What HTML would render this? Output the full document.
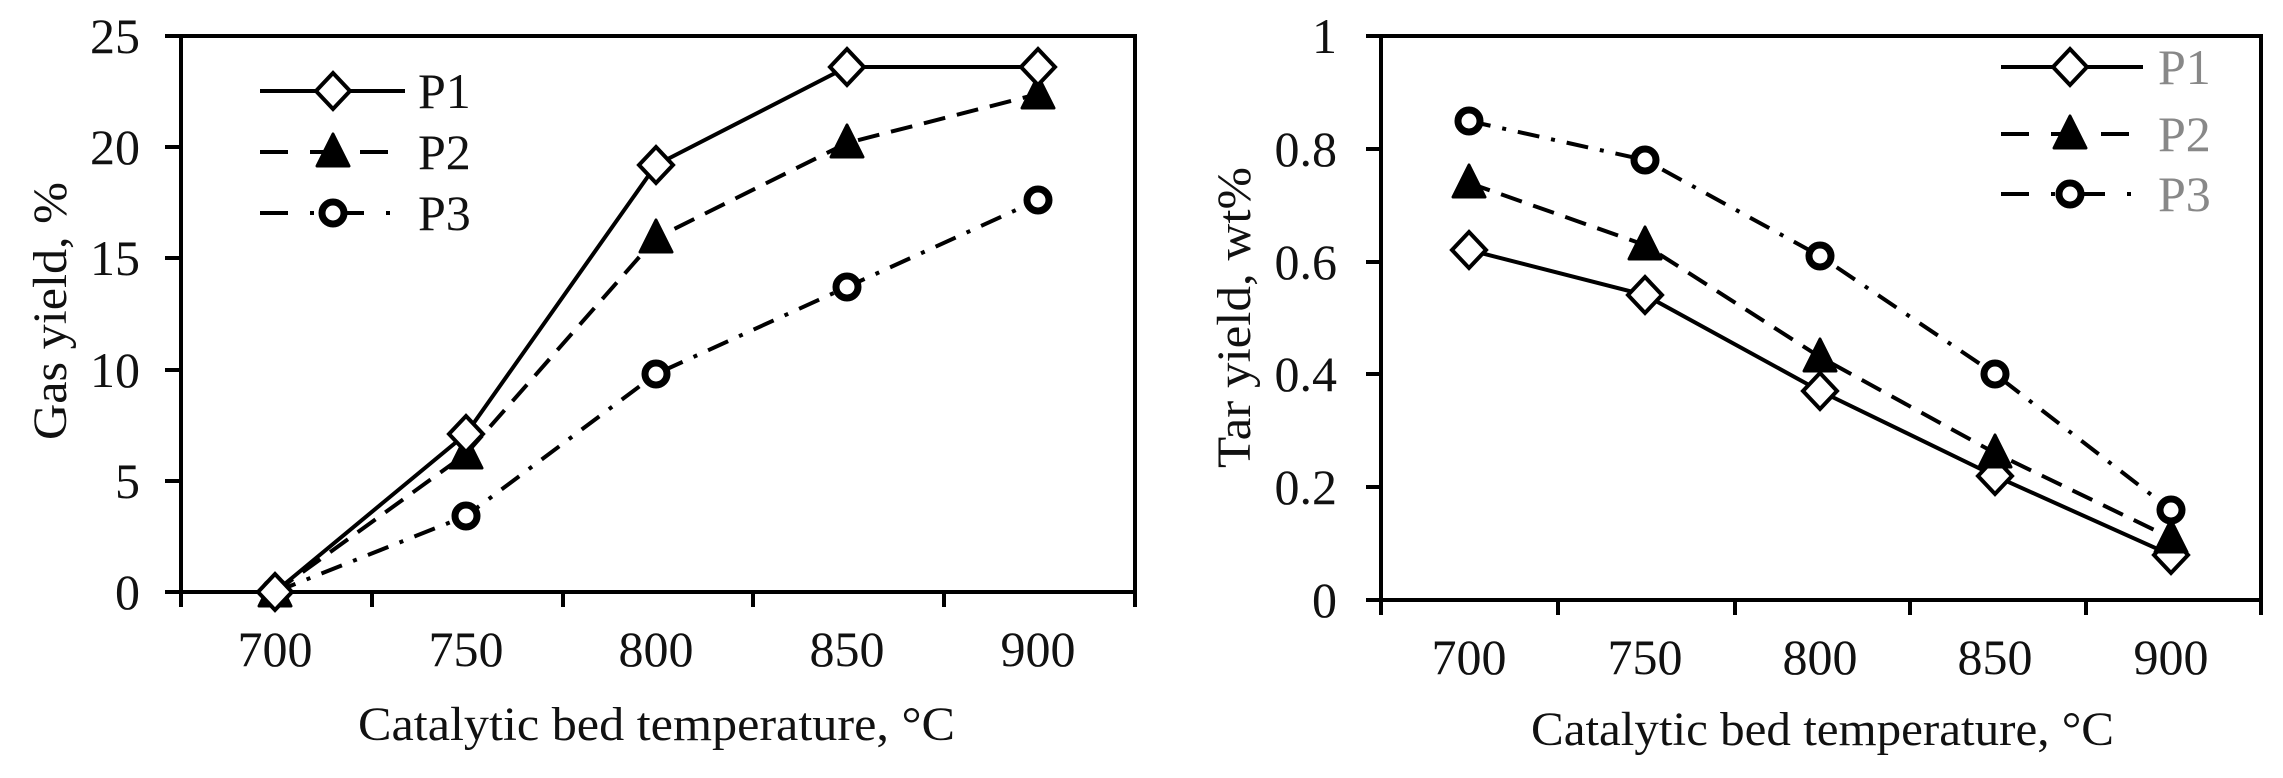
<!DOCTYPE html>
<html><head><meta charset="utf-8"><style>
html,body{margin:0;padding:0;background:#fff;}
svg{display:block;}
text{font-family:"Liberation Serif",serif;fill:#111;}
</style></head><body>
<svg width="2283" height="778" viewBox="0 0 2283 778" xmlns="http://www.w3.org/2000/svg">
<defs>
<g id="dia"><polygon points="0,-18 17,0 0,18 -17,0" fill="#fff" stroke="#000" stroke-width="4"/></g>
<g id="tri"><polygon points="0,-18 16,14 -16,14" fill="#000" stroke="#000" stroke-width="3" stroke-linejoin="round"/></g>
<g id="cir"><circle r="11" fill="#fff" stroke="#000" stroke-width="7"/></g>
</defs>

<!-- LEFT CHART -->
<g stroke="#000" stroke-width="4" fill="none">
<rect x="181" y="36" width="954" height="556"/>
<line x1="165" y1="592" x2="181" y2="592"/><line x1="165" y1="481" x2="181" y2="481"/><line x1="165" y1="370" x2="181" y2="370"/><line x1="165" y1="258" x2="181" y2="258"/><line x1="165" y1="147" x2="181" y2="147"/><line x1="165" y1="36" x2="181" y2="36"/>
<line x1="181" y1="592" x2="181" y2="607"/><line x1="372" y1="592" x2="372" y2="607"/><line x1="563" y1="592" x2="563" y2="607"/><line x1="753" y1="592" x2="753" y2="607"/><line x1="944" y1="592" x2="944" y2="607"/><line x1="1135" y1="592" x2="1135" y2="607"/>
</g>
<g font-size="50" text-anchor="end">
<text x="140" y="609">0</text><text x="140" y="498">5</text><text x="140" y="387">10</text><text x="140" y="275">15</text><text x="140" y="164">20</text><text x="140" y="53">25</text>
</g>
<g font-size="50" text-anchor="middle">
<text x="275" y="666">700</text><text x="466" y="666">750</text><text x="656" y="666">800</text><text x="847" y="666">850</text><text x="1038" y="666">900</text>
</g>
<text x="358" y="740" font-size="48" textLength="597" lengthAdjust="spacingAndGlyphs">Catalytic bed temperature, °C</text>
<text transform="translate(66,440) rotate(-90)" font-size="48" textLength="258" lengthAdjust="spacingAndGlyphs">Gas yield, %</text>

<g fill="none" stroke="#000" stroke-width="4">
<polyline points="275,592 466,434 656,165 847,67 1038,67"/>
<polyline points="275,592 466,454 656,238 847,143 1038,94" stroke-dasharray="22,12"/>
<polyline points="275,592 466,516 656,374 847,287 1038,200" stroke-dasharray="22,12,4,12"/>
</g>
<use href="#cir" x="275" y="592"/><use href="#cir" x="466" y="516"/><use href="#cir" x="656" y="374"/><use href="#cir" x="847" y="287"/><use href="#cir" x="1038" y="200"/>
<use href="#tri" x="275" y="592"/><use href="#tri" x="466" y="454"/><use href="#tri" x="656" y="238"/><use href="#tri" x="847" y="143"/><use href="#tri" x="1038" y="94"/>
<use href="#dia" x="275" y="592"/><use href="#dia" x="466" y="434"/><use href="#dia" x="656" y="165"/><use href="#dia" x="847" y="67"/><use href="#dia" x="1038" y="67"/>

<g fill="none" stroke="#000" stroke-width="4">
<line x1="260" y1="91" x2="405" y2="91"/>
<line x1="260" y1="152" x2="405" y2="152" stroke-dasharray="28,22"/>
<line x1="260" y1="213" x2="405" y2="213" stroke-dasharray="28,22,4,22"/>
</g>
<use href="#dia" x="333" y="91"/><use href="#tri" x="333" y="152"/><use href="#cir" x="333" y="213"/>
<g font-size="50"><text x="418" y="108">P1</text><text x="418" y="169">P2</text><text x="418" y="230">P3</text></g>

<!-- RIGHT CHART -->
<g stroke="#000" stroke-width="4" fill="none">
<rect x="1381" y="36" width="880" height="564"/>
<line x1="1366" y1="600" x2="1381" y2="600"/><line x1="1366" y1="487" x2="1381" y2="487"/><line x1="1366" y1="374" x2="1381" y2="374"/><line x1="1366" y1="262" x2="1381" y2="262"/><line x1="1366" y1="149" x2="1381" y2="149"/><line x1="1366" y1="36" x2="1381" y2="36"/>
<line x1="1381" y1="600" x2="1381" y2="615"/><line x1="1558" y1="600" x2="1558" y2="615"/><line x1="1735" y1="600" x2="1735" y2="615"/><line x1="1910" y1="600" x2="1910" y2="615"/><line x1="2086" y1="600" x2="2086" y2="615"/><line x1="2261" y1="600" x2="2261" y2="615"/>
</g>
<g font-size="50" text-anchor="end">
<text x="1337" y="617">0</text><text x="1337" y="504">0.2</text><text x="1337" y="391">0.4</text><text x="1337" y="279">0.6</text><text x="1337" y="166">0.8</text><text x="1337" y="53">1</text>
</g>
<g font-size="50" text-anchor="middle">
<text x="1469" y="674">700</text><text x="1645" y="674">750</text><text x="1820" y="674">800</text><text x="1995" y="674">850</text><text x="2171" y="674">900</text>
</g>
<text x="1531" y="745" font-size="48" textLength="583" lengthAdjust="spacingAndGlyphs">Catalytic bed temperature, °C</text>
<text transform="translate(1250,468) rotate(-90)" font-size="48" textLength="301" lengthAdjust="spacingAndGlyphs">Tar yield, wt%</text>

<g fill="none" stroke="#000" stroke-width="4">
<polyline points="1469,250 1645,295 1820,391 1995,476 2171,555"/>
<polyline points="1469,183 1645,245 1820,357 1995,453 2171,538" stroke-dasharray="22,12"/>
<polyline points="1469,121 1645,160 1820,256 1995,374 2171,510" stroke-dasharray="22,12,4,12"/>
</g>
<use href="#dia" x="1469" y="250"/><use href="#dia" x="1645" y="295"/><use href="#dia" x="1820" y="391"/><use href="#dia" x="1995" y="476"/><use href="#dia" x="2171" y="555"/>
<use href="#tri" x="1469" y="183"/><use href="#tri" x="1645" y="245"/><use href="#tri" x="1820" y="357"/><use href="#tri" x="1995" y="453"/><use href="#tri" x="2171" y="538"/>
<use href="#cir" x="1469" y="121"/><use href="#cir" x="1645" y="160"/><use href="#cir" x="1820" y="256"/><use href="#cir" x="1995" y="374"/><use href="#cir" x="2171" y="510"/>

<g fill="none" stroke="#000" stroke-width="4">
<line x1="2001" y1="67" x2="2143" y2="67"/>
<line x1="2001" y1="134" x2="2143" y2="134" stroke-dasharray="28,22"/>
<line x1="2001" y1="194" x2="2143" y2="194" stroke-dasharray="28,22,4,22"/>
</g>
<use href="#dia" x="2070" y="67"/><use href="#tri" x="2070" y="134"/><use href="#cir" x="2070" y="194"/>
<g font-size="50"><text x="2158" y="84" style="fill:#888">P1</text><text x="2158" y="151" style="fill:#888">P2</text><text x="2158" y="211" style="fill:#888">P3</text></g>
</svg>
</body></html>
